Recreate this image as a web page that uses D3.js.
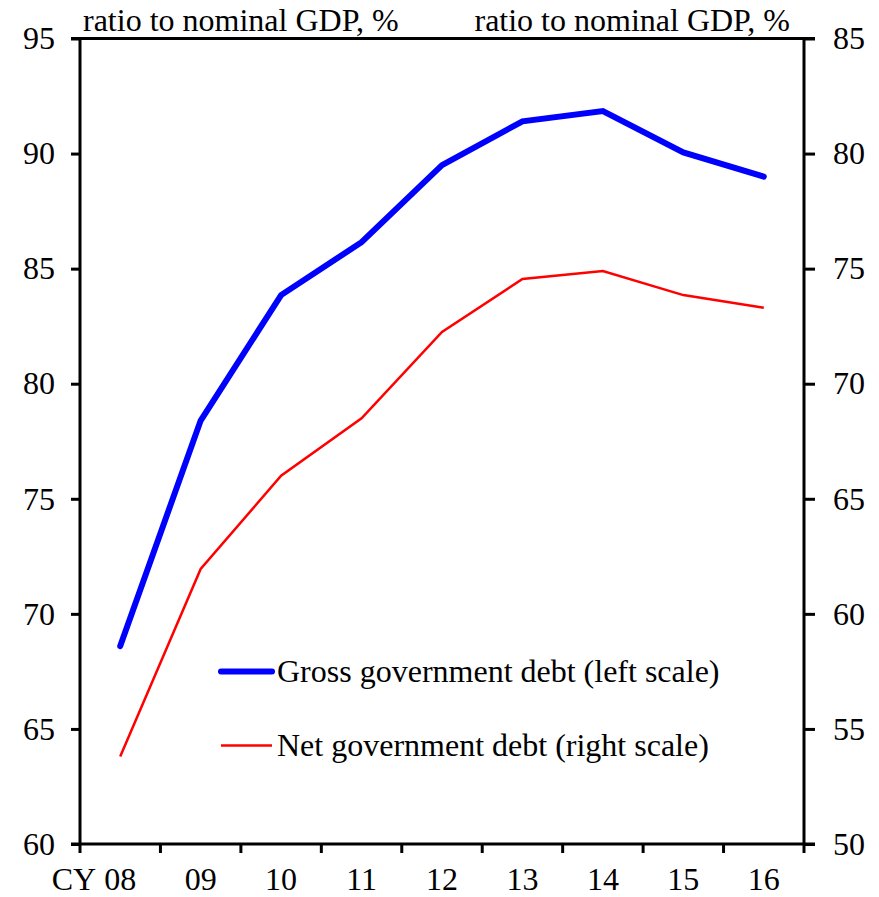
<!DOCTYPE html>
<html>
<head>
<meta charset="utf-8">
<script src="https://cdn.jsdelivr.net/npm/d3@7/dist/d3.min.js"></script>
<style>
  body { margin: 0; background: #fff; }
  svg text { font-family: "Liberation Serif", "Times New Roman", serif; fill: #000; }
</style>
</head>
<body>
<svg id="chart" width="879" height="897"></svg>
<script>
const years = ["08", "09", "10", "11", "12", "13", "14", "15", "16"];
const grossDebt = [68.6, 78.4, 83.85, 86.15, 89.5, 91.4, 91.85, 90.05, 89.0];
const netDebt = [53.8, 61.95, 66.0, 68.5, 72.25, 74.55, 74.9, 73.85, 73.3];
const leftTicks = [60, 65, 70, 75, 80, 85, 90, 95];
const rightTicks = [50, 55, 60, 65, 70, 75, 80, 85];

const svg = d3.select("#chart");
const m = { left: 80, right: 804, top: 38.5, bottom: 844 };
const fontSize = 32;

const x = d3.scaleBand().domain(years).range([m.left, m.right]);
const yL = d3.scaleLinear().domain([60, 95]).range([m.bottom, m.top]);
const yR = d3.scaleLinear().domain([50, 85]).range([m.bottom, m.top]);

// frame line on top
svg.append("line")
    .attr("x1", m.left - 9).attr("x2", m.right + 11)
    .attr("y1", m.top).attr("y2", m.top)
    .attr("stroke", "#000").attr("stroke-width", 3);

// left axis
const gL = svg.append("g")
    .attr("transform", `translate(${m.left},0)`)
    .call(d3.axisLeft(yL).tickValues(leftTicks).tickSize(9).tickPadding(16).tickFormat(d3.format("d")));

// right axis
const gR = svg.append("g")
    .attr("transform", `translate(${m.right},0)`)
    .call(d3.axisRight(yR).tickValues(rightTicks).tickSize(11).tickPadding(18).tickFormat(d3.format("d")));

// bottom axis: ticks at band edges, labels at band centres
const gB = svg.append("g")
    .attr("transform", `translate(0,${m.bottom})`);
gB.append("line")
    .attr("x1", m.left - 9).attr("x2", m.right + 11)
    .attr("stroke", "#000").attr("stroke-width", 3);
gB.selectAll(".tk")
    .data(years.concat(["end"]))
    .enter()
    .append("line")
    .attr("class", "tk")
    .attr("x1", (d, i) => m.left + i * x.step())
    .attr("x2", (d, i) => m.left + i * x.step())
    .attr("y1", 0).attr("y2", 9)
    .attr("stroke", "#000").attr("stroke-width", 3);
const labels = gB.selectAll(".lb")
    .data(years)
    .enter()
    .append("text")
    .attr("class", "lb")
    .attr("x", (d) => x(d) + x.bandwidth() / 2)
    .attr("y", 46)
    .attr("text-anchor", "middle")
    .style("font-size", fontSize + "px")
    .text((d) => d);

// "CY " prefix in front of the first label
const firstW = labels.node().getComputedTextLength();
gB.append("text")
    .attr("x", x(years[0]) + x.bandwidth() / 2 - firstW / 2)
    .attr("y", 46)
    .attr("text-anchor", "end")
    .style("font-size", fontSize + "px")
    .text("CY\u00a0");

[gL, gR].forEach((g) => {
    g.select(".domain").attr("stroke-width", 3);
    g.selectAll(".tick line").attr("stroke-width", 3);
    g.selectAll(".tick text").style("font-size", fontSize + "px");
    g.attr("font-family", null).attr("font-size", null);
});
gL.select(".domain").attr("d", `M0,${m.bottom}V${m.top}`);
gR.select(".domain").attr("d", `M0,${m.bottom}V${m.top}`);

// unit titles
svg.append("text")
    .attr("x", 83).attr("y", 31)
    .style("font-size", fontSize + "px")
    .text("ratio to nominal GDP, %");
svg.append("text")
    .attr("x", 790).attr("y", 31)
    .attr("text-anchor", "end")
    .style("font-size", fontSize + "px")
    .text("ratio to nominal GDP, %");

// lines
const lineL = d3.line()
    .x((d, i) => x(years[i]) + x.bandwidth() / 2)
    .y((d) => yL(d));
const lineR = d3.line()
    .x((d, i) => x(years[i]) + x.bandwidth() / 2)
    .y((d) => yR(d));

svg.append("path")
    .datum(netDebt)
    .attr("d", lineR)
    .attr("fill", "none")
    .attr("stroke", "#ff0000")
    .attr("stroke-width", 2.5);

svg.append("path")
    .datum(grossDebt)
    .attr("d", lineL)
    .attr("fill", "none")
    .attr("stroke", "#0000ff")
    .attr("stroke-width", 6)
    .attr("stroke-linecap", "round");

// legend
const legend = [
    { label: "Gross government debt (left scale)", color: "#0000ff", width: 6, y: 671.5 },
    { label: "Net government debt (right scale)", color: "#ff0000", width: 2.5, y: 745.5 }
];
const lg = svg.selectAll(".legend")
    .data(legend)
    .enter()
    .append("g")
    .attr("class", "legend");
lg.append("line")
    .attr("x1", 221).attr("x2", 272)
    .attr("y1", (d) => d.y).attr("y2", (d) => d.y)
    .attr("stroke", (d) => d.color)
    .attr("stroke-width", (d) => d.width)
    .attr("stroke-linecap", (d) => (d.width > 3 ? "round" : "butt"));
lg.append("text")
    .attr("x", 277)
    .attr("y", (d) => d.y + 10)
    .style("font-size", fontSize + "px")
    .text((d) => d.label);
</script>
</body>
</html>
